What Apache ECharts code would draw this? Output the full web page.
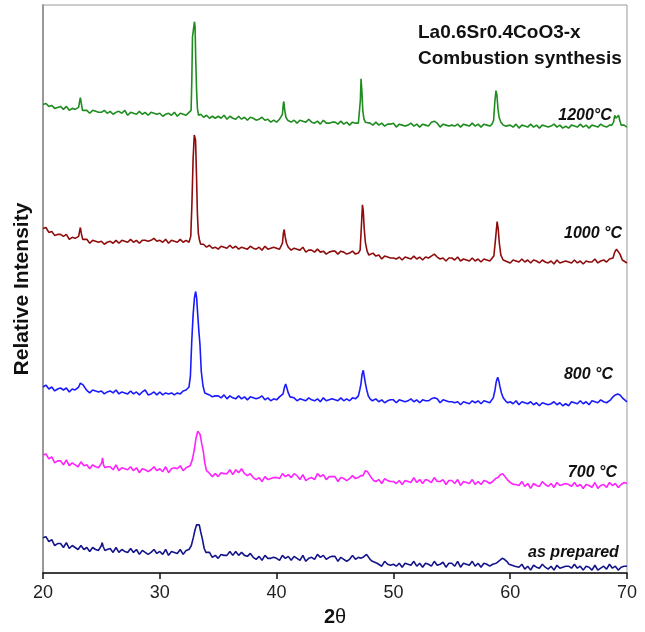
<!DOCTYPE html>
<html>
<head>
<meta charset="utf-8">
<script src="https://cdn.jsdelivr.net/npm/echarts@6/dist/echarts.min.js"></script>
<style>html,body{margin:0;padding:0;background:#fff}#c{width:645px;height:632px}</style>
</head>
<body>
<div id="c"></div>
<script>
// 2-theta sampling grid (degrees)
const theta = [
20,20.25,20.5,20.75,21,21.25,21.5,21.75,22,22.25,22.5,22.75,23,23.25,23.5,23.75,24,24.25,24.5,24.75,
25,25.25,25.5,25.75,26,26.25,26.5,26.75,27,27.25,27.5,27.75,28,28.25,28.5,28.75,29,29.25,29.5,29.75,
30,30.25,30.5,30.75,31,31.25,31.5,31.75,32,32.25,32.5,32.75,33,33.25,33.5,33.75,34,34.25,34.5,34.75,
35,35.25,35.5,35.75,36,36.25,36.5,36.75,37,37.25,37.5,37.75,38,38.25,38.5,38.75,39,39.25,39.5,39.75,
40,40.25,40.5,40.75,41,41.25,41.5,41.75,42,42.25,42.5,42.75,43,43.25,43.5,43.75,44,44.25,44.5,44.75,
45,45.25,45.5,45.75,46,46.25,46.5,46.75,47,47.25,47.5,47.75,48,48.25,48.5,48.75,49,49.25,49.5,49.75,
50,50.25,50.5,50.75,51,51.25,51.5,51.75,52,52.25,52.5,52.75,53,53.25,53.5,53.75,54,54.25,54.5,54.75,
55,55.25,55.5,55.75,56,56.25,56.5,56.75,57,57.25,57.5,57.75,58,58.25,58.5,58.75,59,59.25,59.5,59.75,
60,60.25,60.5,60.75,61,61.25,61.5,61.75,62,62.25,62.5,62.75,63,63.25,63.5,63.75,64,64.25,64.5,64.75,
65,65.25,65.5,65.75,66,66.25,66.5,66.75,67,67.25,67.5,67.75,68,68.25,68.5,68.75,69,69.25,69.5,69.75,
70];

// Relative intensity (arbitrary units, stacked offsets) on the theta grid
const base1200 = [
476,477,474,475,472,473,474,471,474,470,472,471,470,473,469,470,467,470,469,468,
468,470,467,469,466,468,469,467,470,465,468,467,466,469,466,468,465,468,467,466,
467,464,466,467,465,468,464,467,466,465,468,466,466,466,466,463,465,462,464,462,
464,462,465,461,464,462,461,464,461,463,460,463,462,460,461,463,460,461,458,460,
458,461,460,459,461,458,460,457,460,459,458,461,458,457,459,456,460,457,457,458,
458,456,459,456,458,455,458,457,456,458,454,456,457,455,458,455,457,454,456,456,
457,453,456,455,454,455,457,454,456,453,456,455,454,458,459,457,453,456,455,454,
455,454,456,453,456,455,454,457,454,456,453,456,455,454,457,454,454,455,452,455,
455,453,456,452,455,454,453,456,453,455,452,455,454,453,454,456,453,455,452,454,
452,455,454,453,456,453,455,452,455,454,453,456,454,453,455,452,455,453,453,455,
453];
const peaks1200 = [
[[22.9,470],[23.05,473],[23.12,478],[23.2,483],[23.28,477],[23.38,470],[23.5,469]],
[[32.6,466],[32.68,470],[32.74,500],[32.8,545],[32.86,550],[32.92,556],[32.97,560],[33.02,555],[33.08,520],[33.15,490],[33.22,472],[33.32,465]],
[[40.4,460],[40.5,466],[40.57,476],[40.62,479],[40.7,470],[40.8,463],[40.95,460]],
[[47.0,457],[47.1,459],[47.17,480],[47.23,502],[47.3,490],[47.38,470],[47.48,461],[47.6,458],[47.75,456]],
[[58.45,456],[58.58,460],[58.68,478],[58.78,490],[58.86,486],[58.95,472],[59.05,463],[59.2,458],[59.4,455],[59.6,454]],
[[68.7,455],[68.85,458],[68.95,465],[69.05,462],[69.15,460],[69.28,465],[69.38,460],[69.5,455],[69.6,454]]
];

const base1000 = [
350,351,346,347,343,344,344,342,344,339,341,340,339,341,338,339,335,338,337,336,
337,334,336,337,335,338,335,338,337,336,339,336,338,335,338,338,337,338,340,337,
338,336,339,335,338,337,336,339,336,338,336,337,337,336,333,334,331,333,330,331,
329,332,331,330,333,330,332,329,331,330,329,332,330,329,331,328,332,329,330,331,
330,329,331,329,331,328,330,329,328,331,326,328,328,326,329,326,327,324,326,327,
327,324,327,326,324,325,327,324,326,323,326,325,322,325,322,323,319,322,321,320,
320,319,321,318,321,320,319,322,319,321,318,321,320,322,324,321,319,320,317,320,
320,318,321,317,319,318,317,320,317,319,316,319,318,317,318,320,317,318,315,317,
315,318,317,316,319,316,318,315,318,317,315,318,316,315,317,314,318,315,316,317,
316,315,318,315,317,314,317,316,316,319,315,317,318,316,319,316,318,315,317,318,
315];
const peaks1000 = [
[[22.9,340],[23.05,342],[23.13,347],[23.2,351],[23.28,345],[23.4,339],[23.5,338]],
[[32.55,338],[32.65,342],[32.75,375],[32.85,420],[32.95,445],[33.0,447],[33.06,440],[33.14,405],[33.22,365],[33.3,345],[33.4,338],[33.5,334]],
[[40.35,331],[40.5,335],[40.58,345],[40.65,349],[40.73,342],[40.85,335],[41.0,331]],
[[47.0,325],[47.15,328],[47.25,350],[47.35,374],[47.42,368],[47.5,350],[47.6,336],[47.75,327],[47.9,323]],
[[58.4,318],[58.6,322],[58.75,340],[58.88,357],[58.97,350],[59.07,335],[59.2,323],[59.4,318],[59.6,317]],
[[68.6,317],[68.8,320],[68.95,326],[69.1,329],[69.25,328],[69.4,324],[69.6,318]]
];

const base800 = [
189,191,187,189,185,187,188,186,188,184,187,186,185,188,185,187,183,186,185,184,
185,182,184,185,183,186,182,184,183,182,185,182,184,181,184,186,181,182,184,181,
184,181,183,182,183,181,183,182,185,186,186,186,186,186,186,186,181,181,179,180,
180,178,181,177,180,178,177,180,177,179,176,179,178,177,178,180,176,178,175,177,
176,179,178,178,180,177,178,175,177,176,175,178,176,175,177,174,178,175,176,177,
176,175,178,175,177,175,178,177,176,178,174,176,176,174,177,174,176,173,175,176,
176,173,176,175,174,175,177,174,176,173,176,175,175,177,178,177,173,176,175,174,
174,173,174,171,174,173,172,175,173,175,172,175,174,173,176,173,173,174,171,174,
174,172,175,171,174,173,172,174,171,173,170,173,172,171,172,174,171,173,170,172,
170,174,173,172,175,172,174,171,175,174,173,176,174,173,175,172,176,174,174,175,
174];
const peaks800 = [
[[22.9,186],[23.05,189],[23.2,193],[23.3,194],[23.45,191],[23.6,188],[23.8,185],[23.95,185]],
[[32.3,186],[32.5,189],[32.62,200],[32.73,234],[32.85,262],[32.97,280],[33.07,286],[33.15,280],[33.25,262],[33.35,245],[33.44,232],[33.55,205],[33.7,190],[33.85,183],[34.0,181]],
[[40.4,178],[40.55,182],[40.68,189],[40.78,192],[40.88,188],[41.0,183],[41.15,179],[41.3,177]],
[[46.8,177],[47.0,180],[47.12,186],[47.22,192],[47.32,202],[47.42,206],[47.5,200],[47.6,193],[47.72,186],[47.85,180],[48.0,177],[48.2,175]],
[[58.4,175],[58.55,178],[58.7,186],[58.8,194],[58.93,199],[59.03,195],[59.13,189],[59.25,183],[59.4,178],[59.6,175],[59.8,173]],
[[68.4,174],[68.6,176],[68.8,179],[69.0,181],[69.2,182],[69.4,181],[69.6,178],[69.8,176],[70,174]]
];

const base700 = [
120,121,116,118,112,114,114,110,115,109,112,110,108,113,109,110,106,110,108,107,
108,105,108,108,105,110,104,107,106,105,108,104,107,102,106,105,103,105,108,104,
106,103,108,102,106,107,106,109,104,107,103,107,106,104,106,109,104,104,98,101,
98,102,101,101,105,100,105,102,106,101,99,101,97,95,97,93,98,95,96,97,
97,96,101,98,100,97,101,99,95,100,94,96,97,95,101,98,100,95,98,98,
98,93,97,96,94,96,99,96,97,94,97,96,94,98,93,95,91,96,94,93,
93,91,94,90,94,93,92,97,92,95,91,95,94,92,97,93,93,95,90,94,
94,91,95,89,93,92,91,95,90,93,90,94,93,91,93,96,94,95,92,93,
88,92,90,89,93,88,91,86,91,89,88,93,90,88,91,87,92,89,90,91,
90,88,92,88,90,86,90,89,87,92,86,89,90,87,92,89,91,87,90,92,
91];
const peaks700 = [
[[24.9,108],[25.02,112],[25.1,117],[25.18,110],[25.3,107]],
[[32.4,106],[32.6,109],[32.78,115],[32.95,125],[33.1,137],[33.25,144],[33.35,145],[33.45,141],[33.58,132],[33.72,124],[33.85,112],[34.0,104],[34.2,102]],
[[47.0,97],[47.2,99],[47.4,99],[47.6,104],[47.78,103],[47.95,101],[48.1,97],[48.3,94],[48.5,93]],
[[58.5,93],[58.75,96],[58.95,97],[59.15,100],[59.35,101],[59.55,98],[59.75,95],[60.0,92],[60.3,90]]
];

const basePrep = [
36,37,32,34,28,30,30,26,31,25,28,26,24,28,24,26,22,26,24,23,
26,21,24,25,21,26,21,24,22,21,25,21,24,19,23,21,19,21,24,20,
22,19,24,18,22,21,20,24,19,23,20,22,21,19,20,23,18,21,16,18,
15,19,18,18,22,18,22,18,21,18,17,20,16,14,17,13,18,15,15,16,
15,13,18,15,17,13,17,15,13,18,12,15,16,14,19,16,18,14,16,17,
17,12,16,14,12,14,18,14,16,12,16,15,13,16,12,12,7,12,9,8,
9,7,10,6,10,9,8,12,7,10,6,10,9,7,12,8,9,11,6,10,
10,7,12,6,10,9,8,12,7,10,6,10,9,7,9,12,8,11,6,9,
5,8,7,6,9,4,7,3,8,6,5,9,6,4,7,3,8,5,6,7,
7,5,9,5,7,3,7,6,3,8,3,5,7,4,9,5,7,3,6,7,
7];
const peaksPrep = [
[[24.85,24],[25.0,28],[25.07,31],[25.15,27],[25.3,23]],
[[32.3,22],[32.5,24],[32.7,28],[32.87,36],[33.02,44],[33.15,49],[33.28,51],[33.38,49],[33.5,42],[33.64,35],[33.8,25],[33.95,21],[34.1,19]],
[[47.2,15],[47.4,16],[47.55,18],[47.7,19],[47.85,17],[48.0,14],[48.2,12],[48.4,11],[48.6,10]],
[[58.6,9],[58.8,10],[59.0,12],[59.15,14],[59.32,15],[59.5,14],[59.7,12],[59.9,9],[60.15,8],[60.4,7]]
];

const seriesNames = ['1200°C','1000 °C','800 °C','700 °C','as prepared'];
const seriesColors = ['#1e8c1e','#8e0c0c','#1a1aff','#ff22ff','#14148a'];
const labelAnchors = [[68.7,465],[69.57,345],[68.8,202],[69.14,102],[69.3,21]];
const xTicks = [20,30,40,50,60,70];

function build(base, peaks) {
  let pts = theta.map((t, i) => [t, base[i]]);
  peaks.forEach(seg => {
    const a = seg[0][0], b = seg[seg.length - 1][0];
    pts = pts.filter(p => p[0] < a || p[0] > b).concat(seg);
  });
  pts.sort((p, q) => p[0] - q[0]);
  return pts;
}

const datasets = [
  build(base1200, peaks1200),
  build(base1000, peaks1000),
  build(base800, peaks800),
  build(base700, peaks700),
  build(basePrep, peaksPrep)
];

const chart = echarts.init(document.getElementById('c'));
chart.setOption({
  animation: false,
  backgroundColor: '#ffffff',
  textStyle: { fontFamily: 'Liberation Sans, Arial, Helvetica, sans-serif' },
  title: {
    text: 'La0.6Sr0.4CoO3-x\nCombustion synthesis',
    left: 418, top: 20, padding: 0,
    textStyle: { fontSize: 19, fontWeight: 'bold', color: '#111', lineHeight: 26 }
  },
  grid: { left: 43, right: 18, top: 5, bottom: 50, show: true, borderColor: '#9a9a9a', borderWidth: 1 },
  xAxis: {
    type: 'value', min: xTicks[0], max: xTicks[xTicks.length - 1], interval: 10,
    name: '{b|2}{t|θ}', nameLocation: 'middle', nameGap: 30,
    nameTextStyle: { rich: { b: { fontSize: 20, fontWeight: 'bold', color: '#111' }, t: { fontSize: 20, color: '#111' } } },
    axisLine: { lineStyle: { color: '#111', width: 1.5 } },
    axisTick: { length: 6, lineStyle: { color: '#111', width: 1.5 } },
    axisLabel: { fontSize: 18, color: '#222', margin: 11 },
    splitLine: { show: false }
  },
  yAxis: {
    type: 'value', min: 0, max: 577,
    name: 'Relative Intensity', nameLocation: 'middle', nameGap: 10,
    nameTextStyle: { fontSize: 21, fontWeight: 'bold', color: '#111' },
    axisLine: { show: true, lineStyle: { color: '#999', width: 2 } },
    axisTick: { show: false }, axisLabel: { show: false }, splitLine: { show: false }
  },
  series: datasets.map((d, i) => ({
    type: 'line', name: seriesNames[i], data: d, showSymbol: false, symbol: 'none',
    lineStyle: { color: seriesColors[i], width: 1.6 }, itemStyle: { color: seriesColors[i] },
    z: 3,
    markPoint: {
      silent: true, symbol: 'rect', symbolSize: 0,
      data: [{ coord: labelAnchors[i] }],
      label: {
        show: true, position: 'left', distance: 0, formatter: seriesNames[i],
        fontSize: 16, fontStyle: 'italic', fontWeight: 'bold', color: '#111'
      }
    }
  }))
});
</script>
</body>
</html>
